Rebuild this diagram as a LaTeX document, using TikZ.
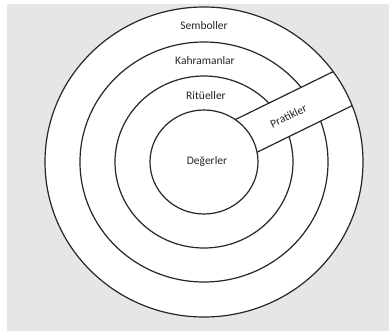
\documentclass[tikz,border=0pt]{standalone}
\usepackage{fontspec}
\setmainfont{Carlito}
\definecolor{bggray}{HTML}{E6E6E6}
\definecolor{ink}{HTML}{262626}
\tikzset{
  ring/.style={draw=ink, line width=1.2pt},
  lbl/.style={text=ink, font=\fontsize{11.5}{13}\selectfont, inner sep=0pt}
}
\begin{document}
\begin{tikzpicture}[x=1pt,y=-1pt]
\useasboundingbox (0,0) rectangle (389,331);
\fill[white] (0,0) rectangle (389,331);
\fill[bggray] (7,4) rectangle (389,331);
% outer disc
\fill[white] (204,162) ellipse [x radius=159, y radius=155];
\draw[ring] (204,162) ellipse [x radius=124, y radius=120];
\draw[ring] (204,162) ellipse [x radius=89, y radius=86];
% band
\begin{scope}
  \clip (204,162) ellipse [x radius=159, y radius=155];
  \fill[white] (190,141.8) -- (380,48.7) -- (380,92) -- (190,185.1) -- cycle;
  \draw[ring] (190,141.8) -- (380,48.7);
  \draw[ring] (190,185.1) -- (380,92);
\end{scope}
\draw[ring, fill=white] (204,162) ellipse [x radius=54, y radius=52];
\draw[ring] (204,162) ellipse [x radius=159, y radius=155];
% labels
\node[lbl] (sem) at (204,25.5) {Semboller};
\node[lbl] (kah) at (205,61) {Kahramanlar};
\node[lbl] (rit) at (206,95.5) {Ritüeller};
\node[lbl] (deg) at (207,161) {Değerler};
\node[lbl, rotate=26] (pra) at (288.5,116) {Pratikler};
\end{tikzpicture}
\end{document}
